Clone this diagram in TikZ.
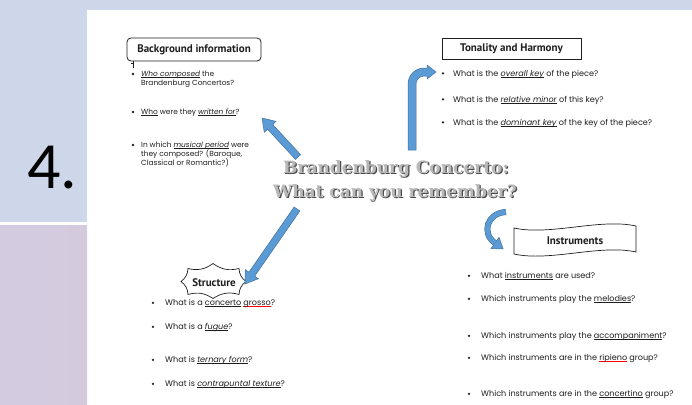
\documentclass[tikz,border=0pt]{standalone}
\usepackage{fontspec}
\usetikzlibrary{calc}
\setmainfont{Poppins}
\newfontfamily\hdfont{PT Sans}
\newfontfamily\ttlfont{DejaVu Serif}
\newfontfamily\numfont{Carlito}
\definecolor{slideblue}{HTML}{CED6EA}
\definecolor{slidemauve}{HTML}{D4CADE}
\definecolor{arrowblue}{HTML}{5B9BD5}
\definecolor{arrowedge}{HTML}{41719C}
\definecolor{ink}{HTML}{1E1E1E}
\newcommand{\q}{\fontsize{8.1}{9}\selectfont}
\newcommand{\qs}{\fontsize{7.4}{9}\selectfont}
\newcommand{\hd}{\hdfont\bfseries\fontsize{11}{13}\selectfont}
\newcommand{\ttl}{\ttlfont\bfseries\fontsize{17}{20}\selectfont}
% underline at a fixed depth, in the current colour or red
\newcommand{\ul}[1]{\setbox0\hbox{#1}\rlap{\rule[-1.3pt]{\wd0}{0.45pt}}\box0\relax}
\newcommand{\ulit}[1]{\ul{\textit{#1}}}
\newcommand{\spell}[1]{\setbox0\hbox{#1}\rlap{\color{red}\rule[-1.5pt]{\wd0}{0.6pt}}\box0\relax}
% straight block arrow from #1 to #2
\newcommand{\blockarrow}[2]{%
  \coordinate (hb) at ($(#2)!12pt!(#1)$);
  \filldraw[blk] ($(#1)!3.5pt!90:(#2)$) -- ($(hb)!3.5pt!90:(#2)$) -- ($(hb)!8pt!90:(#2)$) -- (#2)
    -- ($(hb)!8pt!-90:(#2)$) -- ($(hb)!3.5pt!-90:(#2)$) -- ($(#1)!3.5pt!-90:(#2)$) -- cycle;}

\begin{document}
\begin{tikzpicture}[x=1pt, y=-1pt,
  hd/.style={font=\hd, text=ink, inner sep=0pt},
  q/.style={font=\q, text=ink, anchor=base west, inner sep=0pt},
  dot/.style={circle, fill=ink, inner sep=0pt, minimum size=2.6pt},
  blk/.style={fill=arrowblue, draw=arrowedge, line width=0.5pt, line join=miter},
  ttl/.style={font=\ttl, inner sep=0pt, anchor=base}]
\useasboundingbox (0,0) rectangle (692,404);

% ================================================================== slide frame
\fill[slideblue] (0,0) rectangle (692,10);
\fill[slideblue] (0,0) rectangle (87,222);
\shade[left color=slidemauve!80!slideblue, right color=slidemauve] (0,225) rectangle (87,404);
\node[font=\numfont\fontsize{66}{66}\selectfont, text=black, anchor=base west, inner sep=0pt] (num) at (27,188) {4.};

% ================================================================== title in the middle
\node[ttl, text=black!70] (ttl1s) at (397.2,174.2) {Brandenburg Concerto:};
\node[ttl, text=black!28] (ttl1) at (396,173) {Brandenburg Concerto:};
\node[ttl, text=black!70] (ttl2s) at (396.2,198.2) {What can you remember?};
\node[ttl, text=black!28] (ttl2) at (395,197) {What can you remember?};

% ================================================================== background information
\node[hd, draw=ink, line width=0.8pt, rounded corners=4pt, minimum width=134pt, minimum height=23pt] (bg) at (194,49.5) {Background information};
\coordinate (bgtail) at (133,68);
\draw[ink, line width=0.6pt] (bg.south -| bgtail) -- (bgtail);
\draw[ink, line width=0.6pt] ($(bg.south -| bgtail)+(-2,1.5)$) -- ++(3,0);
\foreach \y [count=\i] in {74,112,145}{ \node[dot] (bgd\i) at (133,\y) {}; }
\foreach \y/\t [count=\i] in {76.5/{\ulit{Who composed} the}, 85.5/{Brandenburg Concertos?},
    114.5/{\ul{Who} were they \ulit{written for}?}, 147.5/{In which \ulit{musical period} were},
    156.5/{they composed? (Baroque,}, 165.5/{Classical or Romantic?)}}{
  \node[q, font=\qs] (bgq\i) at (141,\y) {\t};
}
\coordinate (a1tail) at (298,157);
\coordinate (a1head) at (262,118);
\blockarrow{a1tail}{a1head}

% ================================================================== tonality and harmony
\node[hd, draw=ink, line width=0.8pt, minimum width=139pt, minimum height=21pt] (ton) at (511.5,48.5) {Tonality and Harmony};
\foreach \y/\t [count=\i] in {76/{What is the \ulit{overall key} of the piece?},
    102/{What is the \ulit{relative minor} of this key?},
    125/{What is the \ulit{dominant key} of the key of the piece?}}{
  \node[dot] (tond\i) at (443,\y-2.6) {};
  \node[q] (tonq\i) at (453,\y) {\t};
}
% bent arrow up from the title, turning right onto the list
\coordinate (b0) at (412,150);
\filldraw[blk] (b0) ++(-4,0) -- (408,84) .. controls (408,75.2) and (415.2,68) .. (424,68) -- (427,68) -- (427,65)
  -- (436,72) -- (427,79) -- (427,76) -- (424,76) .. controls (419.6,76) and (416,79.6) .. (416,84) -- (416,150) -- cycle;

% ================================================================== structure
\coordinate (a2tail) at (297,209);
\coordinate (a2head) at (245,284);
\node[hd] (str) at (214,282.5) {Structure};
\draw[ink, line width=0.7pt] ($(str)+(-26,-14)$) to[bend right=25] ($(str)+(-1,-19)$) to[bend right=25] ($(str)+(25,-14)$)
  to[bend right=25] ($(str)+(32,-1)$) to[bend right=25] ($(str)+(25,12)$) to[bend right=25] ($(str)+(-1,16)$)
  to[bend right=25] ($(str)+(-26,12)$) to[bend right=25] ($(str)+(-33,-1)$) to[bend right=25] cycle;
\blockarrow{a2tail}{a2head}
\foreach \y/\t [count=\i] in {305.5/{What is a \ul{concerto} \spell{grosso}?}, 329.5/{What is a \ulit{fugue}?},
    362.5/{What is \ulit{ternary form}?}, 386.5/{What is \ulit{contrapuntal texture}?}}{
  \node[dot] (strd\i) at (153,\y-2.6) {};
  \node[q] (strq\i) at (165,\y) {\t};
}

% ================================================================== instruments
\node[hd] (ins) at (575,240.5) {Instruments};
\draw[ink, line width=0.7pt] (514,228) .. controls (550,236) and (600,218) .. (636,226) -- (636,252)
  .. controls (600,244) and (550,262) .. (514,254) -- cycle;
% curved arrow from the title down to the box
\coordinate (c0) at (506,212);
\coordinate (c1) at (487,213);
\coordinate (c2) at (481,233);
\coordinate (c3) at (495,243);
\draw[arrowedge, line width=6pt] (c0) .. controls (c1) and (c2) .. (c3);
\filldraw[blk] ($(c3)!7pt!90:(c2)$) -- ($(c3)!-10pt!(c2)$) -- ($(c3)!7pt!-90:(c2)$) -- cycle;
\draw[arrowblue, line width=4.8pt] (c0) .. controls (c1) and (c2) .. (c3);
\foreach \y/\t [count=\i] in {278.5/{What \ul{instruments} are used?}, 301.5/{Which instruments play the \ul{melodies}?},
    338.5/{Which instruments play the \ul{accompaniment}?}, 360.5/{Which instruments are in the \spell{ripieno} group?},
    396.5/{Which instruments are in the \ul{concertino} group?}}{
  \node[dot] (insd\i) at (469,\y-2.6) {};
  \node[q] (insq\i) at (481,\y) {\t};
}
\end{tikzpicture}
\end{document}
